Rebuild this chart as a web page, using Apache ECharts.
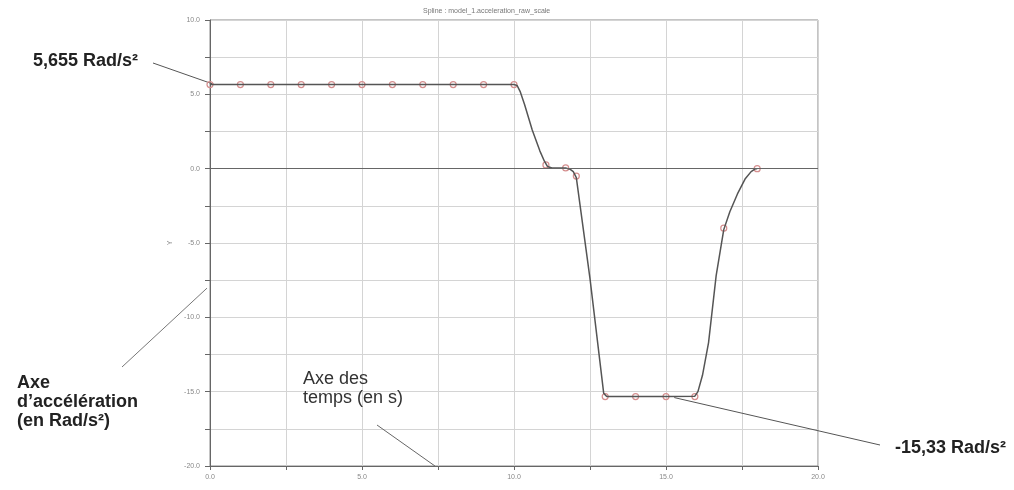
<!DOCTYPE html>
<html>
<head>
<meta charset="utf-8">
<script src="https://cdn.jsdelivr.net/npm/echarts@6/dist/echarts.min.js"></script>
<style>
  html, body { margin: 0; padding: 0; background: #fff; }
  #chart { width: 1014px; height: 490px; }
</style>
</head>
<body>
<div id="chart"></div>
<script>
  // courbe (temps en s, acceleration en Rad/s²)
  var curveX = [0, 1, 2, 3, 4, 5, 6, 7, 8, 9, 10, 10.1, 10.2, 10.35, 10.6, 10.85, 11.0, 11.1, 11.25, 11.5, 11.7, 11.85, 11.95, 12.05, 12.5, 12.95, 13.05, 14.0, 15.0, 15.95, 16.05, 16.2, 16.4, 16.65, 16.9, 17.1, 17.35, 17.6, 17.8, 17.95, 18.0];
  var curveY = [5.655, 5.655, 5.655, 5.655, 5.655, 5.655, 5.655, 5.655, 5.655, 5.655, 5.655, 5.6, 5.2, 4.3, 2.6, 1.2, 0.5, 0.15, 0.05, 0.05, 0.05, -0.05, -0.2, -0.6, -7.4, -15.1, -15.33, -15.33, -15.33, -15.3, -15.0, -13.9, -11.7, -7.2, -4.1, -2.9, -1.7, -0.7, -0.2, 0, 0];
  // points de controle (marqueurs)
  var knotX = [0, 1, 2, 3, 4, 5, 6, 7, 8, 9, 10, 11.05, 11.7, 12.05, 13.0, 14.0, 15.0, 15.95, 16.9, 18.0];
  var knotY = [5.655, 5.655, 5.655, 5.655, 5.655, 5.655, 5.655, 5.655, 5.655, 5.655, 5.655, 0.25, 0.05, -0.5, -15.33, -15.33, -15.33, -15.33, -4.0, 0];
  var xTicks = [0, 5, 10, 15, 20];
  var yTicks = [-20, -15, -10, -5, 0, 5, 10];

  var chart = echarts.init(document.getElementById('chart'));

  var line = [];
  for (var i = 0; i < curveX.length; i++) line.push([curveX[i], curveY[i]]);
  var knots = [];
  for (var j = 0; j < knotX.length; j++) knots.push([knotX[j], knotY[j]]);

  var tickFont = { fontSize: 7, color: '#888', fontFamily: 'Liberation Sans' };
  var bold = { fontFamily: 'Liberation Sans', fontSize: 18, fontWeight: 'bold', fill: '#222' };

  chart.setOption({
    animation: false,
    title: {
      text: 'Spline : model_1.acceleration_raw_scale',
      left: 418, top: 3,
      textStyle: { fontSize: 7, color: '#777', fontWeight: 'normal', fontFamily: 'Liberation Sans' }
    },
    grid: { left: 210, right: 196, top: 20, bottom: 24, show: true, borderColor: '#888', borderWidth: 1 },
    xAxis: {
      type: 'value', min: 0, max: 20, interval: 2.5,
      axisLine: { show: true, onZero: false, lineStyle: { color: '#666' } },
      axisTick: { show: true, length: 4, lineStyle: { color: '#666' } },
      splitLine: { show: true, lineStyle: { color: '#d4d4d4' } },
      axisLabel: Object.assign({
        margin: 8,
        formatter: function (v) { return xTicks.indexOf(v) >= 0 ? v.toFixed(1) : ''; }
      }, tickFont)
    },
    yAxis: {
      type: 'value', min: -20, max: 10, interval: 2.5,
      name: 'Y', nameLocation: 'middle', nameRotate: 90, nameGap: 22,
      nameTextStyle: { fontSize: 7, color: '#888' },
      axisLine: { show: true, onZero: false, lineStyle: { color: '#666' } },
      axisTick: { show: true, length: 5, lineStyle: { color: '#666' } },
      splitLine: { show: true, lineStyle: { color: '#d4d4d4' } },
      axisLabel: Object.assign({
        margin: 10,
        formatter: function (v) { return yTicks.indexOf(v) >= 0 ? v.toFixed(1) : ''; }
      }, tickFont)
    },
    series: [
      {
        type: 'line',
        data: knots,
        symbol: 'circle',
        symbolSize: 6,
        showAllSymbol: true,
        lineStyle: { width: 0, opacity: 0 },
        itemStyle: { color: 'rgba(255,255,255,0)', borderColor: '#d58f8f', borderWidth: 1.2 },
        z: 2
      },
      {
        type: 'line',
        data: line,
        symbol: 'none',
        smooth: false,
        lineStyle: { color: '#555', width: 1.5 },
        markLine: {
          silent: true, symbol: 'none', label: { show: false },
          lineStyle: { color: '#666', type: 'solid', width: 1.2 },
          data: [{ yAxis: 0 }]
        },
        z: 3
      }
    ]
  });

  // annotations
  var pA = chart.convertToPixel({ gridIndex: 0 }, [0.15, 5.655]);
  var pB = chart.convertToPixel({ gridIndex: 0 }, [15.6, -15.33]);
  var pC = chart.convertToPixel({ gridIndex: 0 }, [0, -7.9]);
  var pD = chart.convertToPixel({ gridIndex: 0 }, [7.4, -20]);

  chart.setOption({
    graphic: [
      { type: 'text', left: 33, top: 52, style: Object.assign({ text: '5,655 Rad/s²' }, bold) },
      { type: 'line', shape: { x1: 153, y1: 63, x2: pA[0], y2: pA[1] }, style: { stroke: '#555', lineWidth: 1 } },
      { type: 'text', left: 17, top: 374, style: Object.assign({ text: 'Axe\nd\u2019accélération\n(en Rad/s²)', lineHeight: 19 }, bold) },
      { type: 'line', shape: { x1: 122, y1: 367, x2: pC[0] - 3, y2: pC[1] + 2 }, style: { stroke: '#777', lineWidth: 1 } },
      { type: 'text', left: 303, top: 370, style: { text: 'Axe des\ntemps (en s)', lineHeight: 19, fontFamily: 'Liberation Sans', fontSize: 18, fill: '#333' } },
      { type: 'line', shape: { x1: 377, y1: 425, x2: pD[0], y2: pD[1] }, style: { stroke: '#666', lineWidth: 1 } },
      { type: 'text', left: 895, top: 439, style: Object.assign({ text: '-15,33 Rad/s²' }, bold) },
      { type: 'line', shape: { x1: pB[0] - 10, y1: pB[1] + 1, x2: 880, y2: 445 }, style: { stroke: '#555', lineWidth: 1 } }
    ]
  });
</script>
</body>
</html>
